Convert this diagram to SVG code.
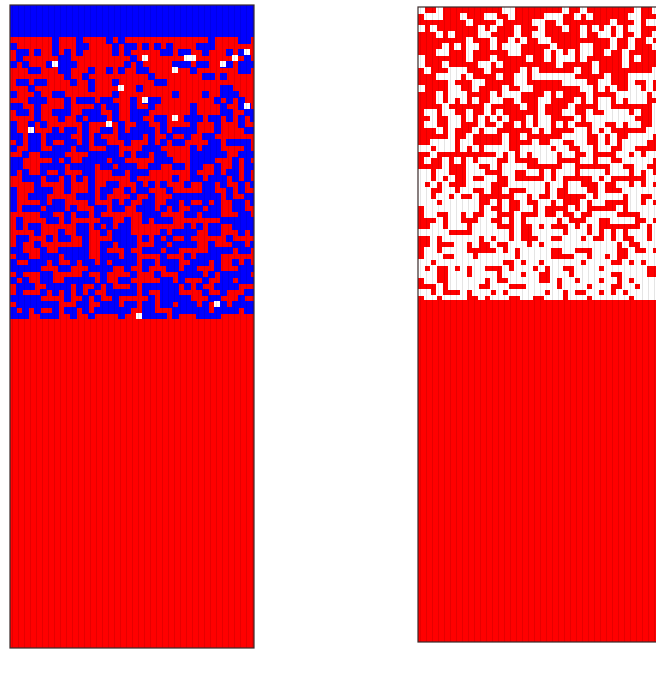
<svg xmlns="http://www.w3.org/2000/svg" width="656" height="677" viewBox="0 0 656 677">
<defs>
<style>
.frame{fill:none;stroke:#3a2a2a;stroke-width:1.2}
.red{fill:#ff0000}
.blue{fill:#0000ff}
.wht{fill:#ffffff}
</style>
<linearGradient id="gL" x1="0" y1="0" x2="0" y2="1">
<stop offset="0" stop-color="rgb(111,0,0)"/>
<stop offset="0.35" stop-color="rgb(123,0,0)"/>
<stop offset="1" stop-color="rgb(129,0,0)"/>
</linearGradient>
<linearGradient id="gR" x1="0" y1="0" x2="0" y2="1">
<stop offset="0" stop-color="rgb(111,0,0)"/>
<stop offset="0.5" stop-color="rgb(123,0,0)"/>
<stop offset="1" stop-color="rgb(140,0,0)"/>
</linearGradient>
<pattern id="vlines" width="6" height="6" patternUnits="userSpaceOnUse">
<rect x="0" y="0" width="1" height="6" fill="rgba(0,0,0,0.10)"/>
</pattern>
<filter id="fL" filterUnits="userSpaceOnUse" x="10" y="37" width="244" height="282" color-interpolation-filters="sRGB">
<feTurbulence type="fractalNoise" baseFrequency="0.61 0.73" numOctaves="1" seed="4" result="t0"/>
<feColorMatrix in="t0" type="matrix" values="1 0 0 0 0  0 1 0 0 0  0 0 1 0 0  0 0 0 0 1" result="t"/>
<feComposite in="t" in2="SourceGraphic" operator="arithmetic" k1="0" k2="1" k3="1" k4="-0.5" result="s"/>
<feFlood flood-color="#fff" x="13" y="40" width="1" height="1" result="dot"/>
<feComposite in="dot" in2="dot" operator="over" x="10" y="37" width="6" height="6" result="cell"/>
<feTile in="cell" result="tile"/>
<feComposite in="s" in2="tile" operator="in" result="samp"/>
<feMorphology in="samp" operator="dilate" radius="3" result="pix"/>
<feColorMatrix in="pix" type="matrix" values="0 0 0 0 0  0 0 0 0 0  0 0 0 0 0  1 0 0 0 0" result="a"/>
<feComponentTransfer in="a" result="m"><feFuncA type="discrete" tableValues="0 1"/></feComponentTransfer>
<feFlood flood-color="#0000ff" result="c"/>
<feComposite in="c" in2="m" operator="in"/>
</filter>
<filter id="fR" filterUnits="userSpaceOnUse" x="418" y="7" width="240" height="293" color-interpolation-filters="sRGB">
<feTurbulence type="fractalNoise" baseFrequency="0.61 0.73" numOctaves="1" seed="11" result="t0"/>
<feColorMatrix in="t0" type="matrix" values="1 0 0 0 0  0 1 0 0 0  0 0 1 0 0  0 0 0 0 1" result="t"/>
<feComposite in="t" in2="SourceGraphic" operator="arithmetic" k1="0" k2="1" k3="1" k4="-0.5" result="s"/>
<feFlood flood-color="#fff" x="421" y="10" width="1" height="1" result="dot"/>
<feComposite in="dot" in2="dot" operator="over" x="418" y="7" width="6" height="6" result="cell"/>
<feTile in="cell" result="tile"/>
<feComposite in="s" in2="tile" operator="in" result="samp"/>
<feMorphology in="samp" operator="dilate" radius="3" result="pix"/>
<feColorMatrix in="pix" type="matrix" values="0 0 0 0 0  0 0 0 0 0  0 0 0 0 0  1 0 0 0 0" result="a"/>
<feComponentTransfer in="a" result="m"><feFuncA type="discrete" tableValues="0 1"/></feComponentTransfer>
<feFlood flood-color="#ffffff" result="c"/>
<feComposite in="c" in2="m" operator="in"/>
</filter>
</defs>
<rect width="656" height="677" fill="#ffffff"/>
<g id="left-panel">
<rect class="red" x="10" y="5" width="244" height="643"/>
<rect class="blue" x="10" y="5" width="244" height="32"/>
<rect x="10" y="37" width="244" height="282" fill="url(#gL)" filter="url(#fL)"/>
<g class="wht">
<rect x="142" y="55" width="6" height="6"/><rect x="52" y="61" width="6" height="6"/>
<rect x="184" y="55" width="12" height="6"/><rect x="172" y="67" width="6" height="6"/>
<rect x="232" y="55" width="6" height="6"/><rect x="244" y="49" width="6" height="6"/>
<rect x="220" y="61" width="6" height="6"/><rect x="118" y="85" width="6" height="6"/>
<rect x="142" y="97" width="6" height="6"/><rect x="244" y="103" width="6" height="6"/>
<rect x="172" y="115" width="6" height="6"/><rect x="28" y="127" width="6" height="6"/>
<rect x="106" y="121" width="6" height="6"/><rect x="214" y="301" width="6" height="6"/>
<rect x="136" y="313" width="6" height="6"/>
</g>
<rect x="10" y="5" width="244" height="643" fill="url(#vlines)"/>
<rect class="frame" x="10" y="5" width="244" height="643"/>
</g>
<g id="right-panel">
<rect class="red" x="418" y="7" width="240" height="635"/>
<rect x="418" y="7" width="240" height="293" fill="url(#gR)" filter="url(#fR)"/>
<rect x="418" y="7" width="240" height="635" fill="url(#vlines)"/>
<rect class="frame" x="418" y="7" width="245" height="635"/>
</g>
</svg>
